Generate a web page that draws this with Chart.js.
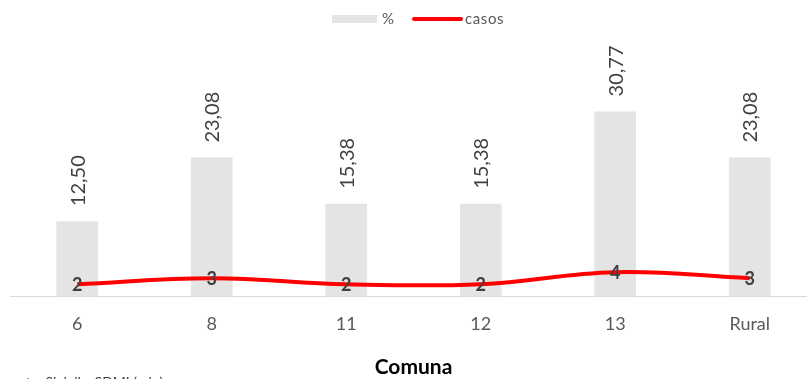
<!DOCTYPE html>
<html>
<head>
<meta charset="utf-8">
<script src="https://cdn.jsdelivr.net/npm/chart.js@4"></script>
<style>
  html, body { margin: 0; padding: 0; background: #fff; overflow: hidden; }
  #wrap { width: 817px; height: 379px; }
</style>
</head>
<body>
<div id="wrap"><canvas id="graph"></canvas></div>
<script>
const comunas = ['6', '8', '11', '12', '13', 'Rural'];
const porcentaje = [12.50, 23.08, 15.38, 15.38, 30.77, 23.08];
const casos = [2, 3, 2, 2, 4, 3];

const textGray = '#404040';
const fontName = 'Lato, "Open Sans", sans-serif';

// labels, legend and source note (no datalabels plugin offline)
const extras = {
    id: 'extras',
    afterDatasetsDraw(chart) {
        const ctx = chart.ctx;

        const bars = chart.getDatasetMeta(1).data;
        ctx.save();
        ctx.fillStyle = textGray;
        ctx.font = '20px ' + fontName;
        ctx.textAlign = 'left';
        ctx.textBaseline = 'middle';
        bars.forEach((bar, i) => {
            ctx.save();
            ctx.translate(bar.x + 1, bar.y - 15);
            ctx.rotate(-Math.PI / 2);
            ctx.fillText(porcentaje[i].toFixed(2).replace('.', ','), 0, 0);
            ctx.restore();
        });

        const pts = chart.getDatasetMeta(0).data;
        ctx.font = 'bold 18px ' + fontName;
        ctx.textAlign = 'center';
        pts.forEach((pt, i) => {
            ctx.fillText(casos[i], pt.x, pt.y + 1);
        });

        // legend
        ctx.fillStyle = '#e4e4e4';
        ctx.fillRect(332, 15, 45, 8);
        ctx.fillStyle = '#595959';
        ctx.font = '15px ' + fontName;
        ctx.letterSpacing = '0.6px';
        ctx.textAlign = 'left';
        ctx.fillText('%', 382, 19);
        ctx.strokeStyle = '#ff0000';
        ctx.lineWidth = 4;
        ctx.lineCap = 'round';
        ctx.beginPath();
        ctx.moveTo(414, 19);
        ctx.lineTo(461, 19);
        ctx.stroke();
        ctx.fillText('casos', 465, 19);
        ctx.letterSpacing = '0px';

        // source note, cut by the bottom edge
        ctx.textBaseline = 'alphabetic';
        ctx.fillStyle = '#404040';
        ctx.font = '14px ' + fontName;
        ctx.fillText('te: Sivigila, SDMI (min)', 26, 387);
        ctx.restore();
    }
};

new Chart(document.getElementById('graph').getContext('2d'), {
    data: {
        labels: comunas,
        datasets: [{
            type: 'line',
            label: 'casos',
            data: casos,
            borderColor: '#ff0000',
            borderWidth: 4,
            tension: 0.4,
            pointRadius: 0,
            order: 0
        },
        {
            type: 'bar',
            label: '%',
            data: porcentaje,
            backgroundColor: '#e4e4e4',
            barPercentage: 0.62,
            categoryPercentage: 0.5,
            order: 1
        }]
    },
    options: {
        responsive: true,
        maintainAspectRatio: false,
        animation: false,
        layout: { padding: { top: 32, left: 10, right: 0, bottom: 0 } },
        plugins: {
            legend: { display: false },
            tooltip: { enabled: false }
        },
        scales: {
            x: {
                grid: { display: false, drawTicks: false },
                border: { color: '#d9d9d9', width: 1 },
                ticks: {
                    color: '#595959',
                    font: { family: fontName, size: 18 },
                    padding: 17
                },
                title: {
                    display: true,
                    text: 'Comuna',
                    color: '#000',
                    font: { family: fontName, size: 21, weight: 'bold' },
                    padding: { top: 3, bottom: -1 }
                }
            },
            y: {
                display: false,
                min: 0,
                max: 44
            }
        }
    },
    plugins: [extras]
});
</script>
</body>
</html>
